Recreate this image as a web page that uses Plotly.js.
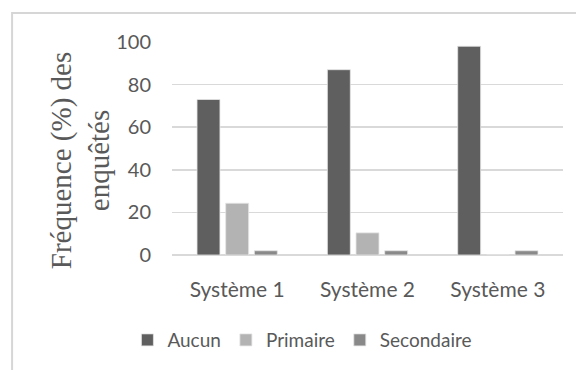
<!DOCTYPE html>
<html>
<head>
<meta charset="utf-8">
<script src="https://cdn.plot.ly/plotly-3.0.1.min.js"></script>
<style>
  html, body { margin: 0; padding: 0; background: #ffffff; }
  #chart { width: 576px; height: 370px; }
</style>
</head>
<body>
<div id="chart"></div>
<script>
// Education level of respondents per farming system (%)
const systems = ["Système 1", "Système 2", "Système 3"];
const aucun = [73, 87, 98];
const primaire = [24.3, 10.4, 0];
const secondaire = [2, 2, 2];
const yTicks = [0, 20, 40, 60, 80, 100];

const sans = "Lato, 'Open Sans', sans-serif";
const textGrey = "#595959";

function barTrace(name, values, color) {
  return {
    type: "bar",
    name: name,
    x: systems,
    y: values,
    marker: { color: color, line: { color: "#e4e4e4", width: 0.8 } },
    hoverinfo: "x+y+name"
  };
}

const data = [
  barTrace("Aucun", aucun, "#5f5f5f"),
  barTrace("Primaire", primaire, "#b3b3b3"),
  barTrace("Secondaire", secondaire, "#898989")
];

const layout = {
  width: 576,
  height: 370,
  margin: { l: 172, r: 13, t: 42, b: 115, autoexpand: false },
  paper_bgcolor: "#ffffff",
  plot_bgcolor: "#ffffff",
  barmode: "group",
  bargap: 0.34,
  bargroupgap: 0.2,
  showlegend: true,
  legend: {
    orientation: "h",
    xref: "container", yref: "container",
    x: 0.525, xanchor: "center",
    y: 0.081, yanchor: "middle",
    font: { family: sans, size: 19, color: textGrey },
    itemwidth: 30,
    traceorder: "normal"
  },
  xaxis: {
    type: "category",
    showgrid: false,
    showline: false,
    zeroline: false,
    ticks: "outside",
    ticklen: 16,
    tickcolor: "rgba(0,0,0,0)",
    tickfont: { family: sans, size: 21, color: textGrey }
  },
  yaxis: {
    range: [0, 100],
    tickvals: yTicks,
    ticktext: yTicks.map(String),
    showgrid: true,
    gridcolor: "#d9d9d9",
    gridwidth: 1.5,
    zeroline: true,
    zerolinecolor: "#d9d9d9",
    zerolinewidth: 1.5,
    showline: false,
    ticks: "outside",
    ticklen: 16,
    tickcolor: "rgba(0,0,0,0)",
    tickfont: { family: sans, size: 20, color: textGrey }
  },
  annotations: [{
    text: "Fréquence (%) des<br>enquêtés",
    xref: "paper", yref: "paper",
    x: -0.235, y: 0.441,
    xanchor: "center", yanchor: "middle",
    textangle: -90,
    showarrow: false,
    font: { family: "'Liberation Serif', 'Times New Roman', serif", size: 29, color: textGrey }
  }],
  shapes: [{
    type: "rect",
    xref: "paper", yref: "paper",
    x0: -0.409, x1: 1.06,
    y0: -0.6, y1: 1.136,
    line: { color: "#d6d6d6", width: 2 },
    fillcolor: "rgba(0,0,0,0)",
    layer: "below"
  }]
};

Plotly.newPlot("chart", data, layout, { displayModeBar: false, staticPlot: true });
</script>
</body>
</html>
